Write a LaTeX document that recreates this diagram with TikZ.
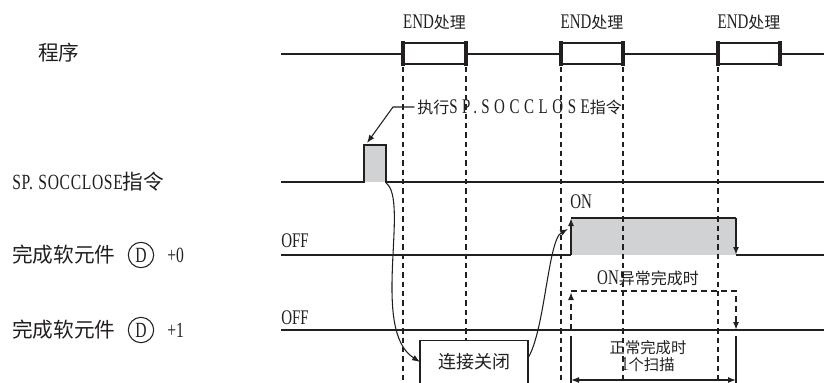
\documentclass[tikz,border=0pt]{standalone}
\usepackage{fontspec}
\setmainfont{Liberation Serif}[FakeStretch=0.72, Scale=1.3]
\newfontfamily\cjk{Noto Sans CJK SC}
\usetikzlibrary{arrows.meta}
\definecolor{ink}{HTML}{231F20}
\definecolor{fillg}{HTML}{D1D2D4}
\newcommand{\latl}{\fontsize{12.5}{15}\selectfont}
\tikzset{
  sig/.style={draw=ink, line width=1.5pt},
  dsig/.style={draw=ink, line width=1.9pt, dash pattern=on 4.5pt off 3pt},
  vdash/.style={draw=ink, line width=0.8pt, dash pattern=on 4pt off 3pt},
  thinl/.style={draw=ink, line width=0.8pt},
  tip/.style={-{Latex[length=6pt,width=4.5pt]}},
  endbox/.style={draw=ink, line width=2pt, fill=white},
  lbl/.style={font=\fontsize{15.5}{18}\selectfont, inner sep=0pt, text=ink},
  sm/.style={font=\fontsize{12}{14}\selectfont, inner sep=0pt, text=ink},
  smb/.style={font=\fontsize{11.5}{14}\selectfont, inner sep=0pt, text=ink},
}
\begin{document}
\begin{tikzpicture}[x=0.75pt, y=-0.75pt]
\useasboundingbox (0,0) rectangle (824,382);
\clip (0,0) rectangle (824,382);

% left labels
\node[lbl, anchor=west] (lprog) at (38,53) {\cjk 程序};
\node[lbl, anchor=west] (lsp) at (12,182) {{\latl\addfontfeature{LetterSpace=3}SP.\hspace{0.25em}SOCCLOSE}{\cjk 指令}};
\node[lbl, anchor=west] (ld0) at (12,255) {\cjk 完成软元件};
\node[lbl, circle, draw=ink, line width=0.8pt, minimum size=19pt, inner sep=0pt] (cd0) at (141,255) {\latl D};
\node[lbl, anchor=west] (p0) at (167,255) {\latl +0};
\node[lbl, anchor=west] (ld1) at (12,330) {\cjk 完成软元件};
\node[lbl, circle, draw=ink, line width=0.8pt, minimum size=19pt, inner sep=0pt] (cd1) at (141,330) {\latl D};
\node[lbl, anchor=west] (p1) at (167,330) {\latl +1};

% program line with END boxes
\draw[sig] (281,53.5) -- (824,53.5);
\foreach \a/\b/\n in {403/466/1, 561/623/2, 718/780/3}{
  \draw[endbox] (\a,43) rectangle (\b,64);
  \draw[draw=ink, line width=2.4pt] (\a,41) -- (\a,66);
  \draw[draw=ink, line width=2.4pt] (\b,41) -- (\b,66);
  \node[sm] (end\n) at ({(\a+\b)/2},22) {END{\cjk 处理}};
}

% fills
\fill[fillg] (364,145) rectangle (386,182);
\fill[fillg] (571,218) rectangle (736,255);

% dashed verticals
\foreach \x in {403,466,561,623,718}{
  \draw[vdash] (\x,67) -- (\x,382);
}

% SP.SOCCLOSE signal
\draw[sig] (281,182) -- (364,182) -- (364,145) -- (386,145) -- (386,182) -- (824,182);

% D+0 signal
\draw[sig] (281,255) -- (571,255);
\draw[sig, tip] (571,255) -- (571,218);
\draw[sig] (571,218) -- (736,218);
\draw[sig, tip] (736,218) -- (736,255);
\draw[sig] (736,255) -- (824,255);
\node[sm, anchor=base west] (off0) at (281,247.5) {OFF};
\node[sm, anchor=base west] (on0) at (570,208) {ON};

% D+1 signal
\draw[sig] (281,330) -- (824,330);
\node[sm, anchor=base west] (off1) at (281,324.5) {OFF};
\draw[dsig, tip] (571,330) -- (571,292);
\draw[dsig, tip] (571,291) -- (736,291) -- (736,330);
\node[sm] (onerr) at (648,278) {ON{\cjk 异常完成时}};
\draw[sig] (571,336) -- (571,390);
\draw[sig] (736,336) -- (736,390);
\draw[thinl, line width=1pt, {Latex[length=6pt,width=4.5pt]}-{Latex[length=6pt,width=4.5pt]}] (571,380) -- (736,380);
\node[smb] (norm) at (648,348) {\cjk 正常完成时};
\node[smb] (scan) at (648,365) {1{\cjk 个扫描}};

% connection close box
\node[draw=ink, line width=1pt, fill=white, minimum width=81pt, minimum height=40pt, anchor=north, inner sep=0pt] (connbox) at (474,340) {};
\node[font=\fontsize{13.5}{16}\selectfont, inner sep=0pt, text=ink] (conntxt) at (474,362) {\cjk 连接关闭};

% execute label
\node[sm, anchor=west] (exec) at (417,107) {{\cjk 执行}{\addfontfeature{LetterSpace=22}SP.\hspace{0.2em}SOCCLOSE}{\cjk 指令}};
\coordinate (lead) at (393,107);
\coordinate (ptop) at (367,143);
\draw[thinl, tip] ([xshift=-2pt]exec.west) -- (lead) -- (ptop);

% curves
\coordinate (pr) at (386,183);
\coordinate (bl) at (420,362);
\coordinate (br) at (528,358);
\coordinate (rise) at (568,229);
\draw[thinl, tip] (pr) .. controls (410,200) and (370,330) .. (bl);
\draw[thinl, tip] (br) .. controls (545,330) and (548,240) .. (rise);
\end{tikzpicture}
\end{document}
